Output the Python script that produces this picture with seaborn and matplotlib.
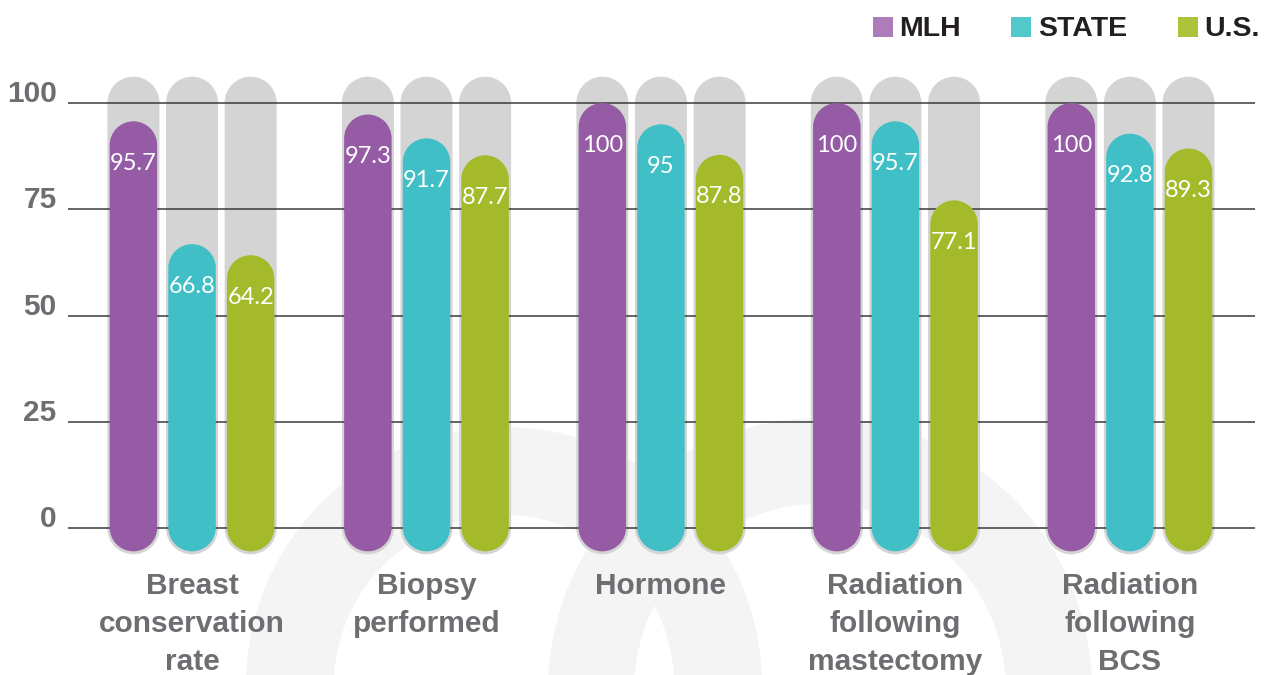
import numpy as np
import pandas as pd
import matplotlib.pyplot as plt
import seaborn as sns
from matplotlib.patches import PathPatch, Rectangle, Wedge
from matplotlib.path import Path

# chart data
categories = ['Breast\nconservation\nrate', 'Biopsy\nperformed', 'Hormone',
              'Radiation\nfollowing\nmastectomy', 'Radiation\nfollowing\nBCS']
groups = ['MLH', 'STATE', 'U.S.']
mlh = [95.7, 97.3, 100, 100, 100]
state = [66.8, 91.7, 95, 95.7, 92.8]
us = [64.2, 87.7, 87.8, 77.1, 89.3]
yticks = [0, 25, 50, 75, 100]

bar_colors = ['#955BA5', '#41BFC6', '#A4BA2A']
legend_colors = ['#AF7CBA', '#53C8CA', '#AFC23B']
track_color = '#D4D4D4'
label_grey = '#6D6E71'

df = pd.DataFrame({
    'Measure': categories * 3,
    'Group': np.repeat(groups, len(categories)),
    'Value': mlh + state + us,
})


def pill(xc, lo, hi, rx, ry):
    # rounded-end bar with true circular caps (ry given in y data units)
    top = Path.arc(0, 180)
    bot = Path.arc(180, 360)
    tv = top.vertices * [rx, ry] + [xc, hi - ry]
    bv = bot.vertices * [rx, ry] + [xc, lo + ry]
    verts = np.concatenate([tv, bv, tv[:1]])
    codes = np.concatenate([top.codes, [Path.LINETO], bot.codes[1:], [Path.CLOSEPOLY]])
    return Path(verts, codes)


sns.set_theme(style='white')
plt.rcParams['font.family'] = ['Liberation Sans', 'DejaVu Sans']

fig = plt.figure(figsize=(12.68, 6.75), dpi=100)

# background: faint watermark arcs + legend, in pixel units
bg = fig.add_axes([0, 0, 1, 1])
bg.set_zorder(0)
bg.set_xlim(0, 1268)
bg.set_ylim(0, 675)
bg.axis('off')
for cx, cy, r, wd in [(504, -10, 258, 88), (820, -15, 272, 86)]:
    bg.add_patch(Wedge((cx, cy), r, 0, 180, width=wd, fc='#F4F4F4', ec='none'))

for name, color, sx, tx in zip(groups, legend_colors, [873, 1011, 1178], [899, 1038, 1204]):
    bg.add_patch(Rectangle((sx, 675 - 37), 20, 20, fc=color, ec='none'))
    bg.text(tx, 675 - 36.5, name, ha='left', va='baseline', fontsize=20.5,
            fontweight='bold', color='#231F20',
            family=['Liberation Sans Narrow', 'Liberation Sans'])

# main chart
ax = fig.add_axes([0, 0, 1, 1])
ax.set_zorder(1)
ax.patch.set_alpha(0)
sns.barplot(data=df, x='Measure', y='Value', hue='Group', order=categories,
            hue_order=groups, palette=bar_colors, width=0.75, gap=0.19,
            saturation=1, errorbar=None, legend=False, ax=ax)
ax.set_xlim(-0.819, 4.589)
ax.set_ylim(-34.6, 124.25)
ax.axis('off')

p0 = ax.transData.transform((0, 0))
p1 = ax.transData.transform((1, 1))
aspect = (p1[0] - p0[0]) / (p1[1] - p0[1])

bar_lo, track_lo, track_hi, pad = -5.5, -6.2, 106.2, 0.0096
for bar in list(ax.patches):
    x, w, h = bar.get_x(), bar.get_width(), bar.get_height()
    color = bar.get_facecolor()
    bar.remove()
    xc = x + w / 2
    tr = w / 2 + pad
    ax.add_patch(PathPatch(pill(xc, track_lo, track_hi, tr, tr * aspect),
                           fc=track_color, ec='none', zorder=1))
    ax.add_patch(PathPatch(pill(xc, bar_lo, h, w / 2, w / 2 * aspect),
                           fc=color, ec='none', zorder=3))
    ax.annotate(f'{h:g}', (xc, h), xytext=(0, -42), textcoords='offset pixels',
                ha='center', va='center', color='white', fontsize=17,
                family=['Lato', 'DejaVu Sans'], zorder=4)

ax.hlines(yticks, -0.529, 4.533, color='#3A3A3A', lw=1.1, zorder=2)
for t in yticks:
    ax.text(-0.577, t + 0.2, str(t), ha='right', va='baseline', fontsize=21.5,
            fontweight='bold', color=label_grey)

for i, cat in enumerate(categories):
    ax.text(i, -10.3, cat, ha='center', va='top', fontsize=21.5, fontweight='bold',
            color=label_grey, linespacing=1.45)

fig.savefig('out.png', dpi=100)
